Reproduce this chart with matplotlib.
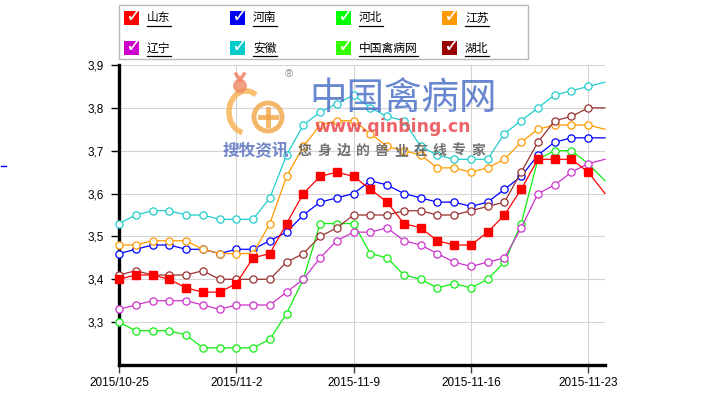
import matplotlib
matplotlib.use("Agg")
import matplotlib.pyplot as plt
from matplotlib.lines import Line2D
from matplotlib.patches import Rectangle, Circle, Arc
from matplotlib.transforms import Affine2D
import numpy as np

W, H = 708, 398

# ---------------- data ----------------
x_labels = ["2015/10-25", "2015/11-2", "2015-11-9", "2015-11-16", "2015-11-23"]
x_label_pos = [0, 7, 14, 21, 28]
y_ticks = [3.3, 3.4, 3.5, 3.6, 3.7, 3.8, 3.9]

shandong = [3.40, 3.41, 3.41, 3.40, 3.38, 3.37, 3.37, 3.39, 3.45, 3.46, 3.53, 3.60, 3.64, 3.65, 3.64,
            3.61, 3.58, 3.53, 3.52, 3.49, 3.48, 3.48, 3.51, 3.55, 3.61, 3.68, 3.68, 3.68, 3.65, 3.60]
henan = [3.46, 3.47, 3.48, 3.48, 3.47, 3.47, 3.46, 3.47, 3.47, 3.49, 3.51, 3.55, 3.58, 3.59, 3.60,
         3.63, 3.62, 3.60, 3.59, 3.58, 3.58, 3.57, 3.58, 3.61, 3.64, 3.69, 3.72, 3.73, 3.73, 3.73]
hebei = [3.30, 3.28, 3.28, 3.28, 3.27, 3.24, 3.24, 3.24, 3.24, 3.26, 3.32, 3.40, 3.53, 3.53, 3.53,
         3.46, 3.45, 3.41, 3.40, 3.38, 3.39, 3.38, 3.40, 3.44, 3.53, 3.68, 3.70, 3.70, 3.67, 3.63]
jiangsu = [3.48, 3.48, 3.49, 3.49, 3.49, 3.47, 3.46, 3.46, 3.46, 3.53, 3.64, 3.71, 3.76, 3.77, 3.77,
           3.74, 3.71, 3.70, 3.69, 3.66, 3.66, 3.65, 3.66, 3.68, 3.72, 3.75, 3.76, 3.76, 3.76, 3.75]
liaoning = [3.33, 3.34, 3.35, 3.35, 3.35, 3.34, 3.33, 3.34, 3.34, 3.34, 3.37, 3.40, 3.45, 3.49, 3.51,
            3.51, 3.52, 3.49, 3.48, 3.46, 3.44, 3.43, 3.44, 3.45, 3.52, 3.60, 3.62, 3.65, 3.67, 3.68]
anhui = [3.53, 3.55, 3.56, 3.56, 3.55, 3.55, 3.54, 3.54, 3.54, 3.59, 3.69, 3.76, 3.79, 3.81, 3.83,
         3.80, 3.78, 3.77, 3.71, 3.69, 3.68, 3.68, 3.68, 3.74, 3.77, 3.80, 3.83, 3.84, 3.85, 3.86]
qinbingwang = []
hubei = [3.41, 3.42, 3.41, 3.41, 3.41, 3.42, 3.40, 3.40, 3.40, 3.40, 3.44, 3.46, 3.50, 3.52, 3.55,
         3.55, 3.55, 3.56, 3.56, 3.55, 3.55, 3.56, 3.57, 3.58, 3.65, 3.72, 3.77, 3.78, 3.80, 3.80]

series_names = ["山东", "河南", "河北", "江苏", "辽宁", "安徽", "中国禽病网", "湖北"]
series_values = [shandong, henan, hebei, jiangsu, liaoning, anhui, qinbingwang, hubei]

# ---------------- style ----------------
line_colors = ["#ff0000", "#0000ff", "#11ee11", "#ff9900", "#cc33cc", "#22cccc", "#33ff00", "#993030"]
box_colors = ["#ff0000", "#0000ee", "#00ff00", "#ff9900", "#cc00cc", "#00cccc", "#33ff00", "#990000"]
marker_count = {"河北": 28}

plt.rcParams['font.family'] = ['Liberation Sans', 'DejaVu Sans']
cjk = ['Noto Sans CJK SC', 'DejaVu Sans']

fig = plt.figure(figsize=(W / 100, H / 100), dpi=100)
pix = Affine2D().scale(1 / W, -1 / H).translate(0, 1) + fig.transFigure

ax = fig.add_axes([119 / W, 1 - 365 / H, (605 - 119) / W, 300 / H])
ax.set_xlim(0, 29)
ax.set_ylim(3.2, 3.9)

for name, vals, col in zip(series_names, series_values, line_colors):
    if not vals:
        continue
    xs = np.arange(len(vals))
    nm = marker_count.get(name, len(vals) - 1)
    if name == "山东":
        ax.plot(xs, vals, color=col, lw=0.9, marker='s', ms=5.2, mfc=col, mec=col,
                markevery=list(range(nm)), clip_on=False, zorder=4)
    else:
        ax.plot(xs, vals, color=col, lw=0.9, marker='o', ms=5.2, mfc='white', mec=col,
                mew=0.9, markevery=list(range(nm)), clip_on=False, zorder=3)

ax.set_yticks(y_ticks)
ax.set_yticklabels([f"{v:.1f}".replace('.', ',') for v in y_ticks])
ax.set_xticks(x_label_pos)
ax.set_xticklabels(x_labels)
ax.grid(True, color='#d4d4d4', lw=0.8)
ax.set_axisbelow(True)
for s in ['top', 'right']:
    ax.spines[s].set_visible(False)
for s in ['left', 'bottom']:
    ax.spines[s].set_linewidth(2.4)
    ax.spines[s].set_color('black')
ax.tick_params(axis='y', length=6, width=1, color='black', pad=5, labelsize=8.5)
ax.tick_params(axis='x', length=6, width=1, color='#444444', pad=3, labelsize=8.5)

# ---------------- legend ----------------
fig.add_artist(Rectangle((119, 5), 409, 54, transform=pix, fc='white', ec='#b8b8b8', lw=1))
col_box_x = [124, 230, 336, 442]
row_y = [18, 48]
for k, (name, c) in enumerate(zip(series_names, box_colors)):
    r, cc = divmod(k, 4)
    bx, cy = col_box_x[cc], row_y[r]
    fig.add_artist(Rectangle((bx, cy - 7), 15, 14, transform=pix, fc=c, ec='none'))
    fig.text(bx + 9, cy - 1, "✓", transform=pix, color='white', fontsize=14, fontweight='bold',
             ha='center', va='center', family='DejaVu Sans')
    tx = bx + 23
    fig.text(tx, cy, name, transform=pix, fontsize=8.5, family=cjk, ha='left', va='center',
             color='black')
    fig.add_artist(Line2D([tx, tx + 11.8 * len(name)], [cy + 7.5, cy + 7.5], transform=pix,
                          color='black', lw=0.9))

# ---------------- watermark ----------------
fig.text(403, 98, "中国禽病网", transform=pix, fontsize=27, family=cjk, color='#4f72c8',
         alpha=0.85, ha='center', va='center', fontweight='medium')
fig.text(393, 127, "www.qinbing.cn", transform=pix, fontsize=12.5, family='DejaVu Sans',
         fontweight='bold', color='#e8474d', alpha=0.85, ha='center', va='center')
fig.text(256, 151, "搜牧资讯", transform=pix, fontsize=12, family=cjk, fontweight='bold',
         color='#5870c0', alpha=0.85, ha='center', va='center')
slogan = "您身边的兽业在线专家"
for j, ch in enumerate(slogan):
    fig.text(305 + 19.2 * j, 151, ch, transform=pix, fontsize=10, family=cjk, fontweight='bold',
             color='#5a5a5a', alpha=0.85, ha='center', va='center')
fig.text(289, 74, "®", transform=pix, fontsize=8, color='#888888', ha='center', va='center')
orange = '#f4a444'
fig.add_artist(Circle((268, 117), 14, transform=pix, fill=False, ec=orange, lw=3.5, alpha=0.8))
fig.add_artist(Line2D([268, 268], [109, 125], transform=pix, color=orange, lw=3.5, alpha=0.8))
fig.add_artist(Line2D([260, 276], [117, 117], transform=pix, color=orange, lw=3.5, alpha=0.8))
fig.add_artist(Arc((246, 112), 34, 42, theta1=100, theta2=300, transform=pix, ec='#f7b050',
                   lw=4, alpha=0.8))
fig.add_artist(Circle((240, 86), 7, transform=pix, fc='#ef8a60', ec='none', alpha=0.8))
fig.add_artist(Line2D([236, 240, 244], [74, 80, 74], transform=pix, color='#ef7a60', lw=2.5, alpha=0.8))

# small stray mark at left edge
fig.add_artist(Line2D([1, 6], [166, 166], transform=pix, color='#0000ff', lw=1))

fig.savefig("out.png", dpi=100)
